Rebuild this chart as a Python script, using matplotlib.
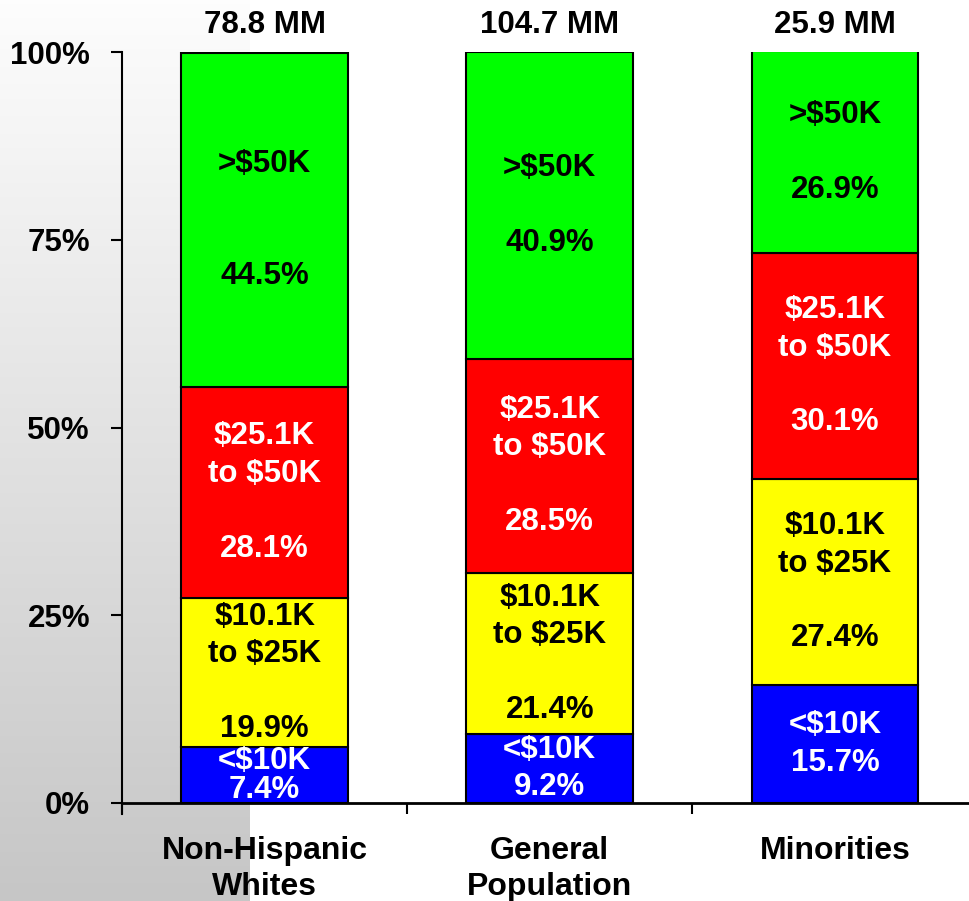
import numpy as np
import matplotlib.pyplot as plt

plt.rcParams['font.family'] = ['Liberation Sans', 'DejaVu Sans']
plt.rcParams['font.weight'] = 'bold'

groups = ['Non-Hispanic\nWhites', 'General\nPopulation', 'Minorities']
totals = ['78.8 MM', '104.7 MM', '25.9 MM']
brackets = ['<$10K', '$10.1K\nto $25K', '$25.1K\nto $50K', '>$50K']
colors = ['#0000ff', '#ffff00', '#ff0000', '#00ff00']
text_colors = ['white', 'black', 'white', 'black']
# share of each income bracket, bottom to top, per group
shares = np.array([
    [7.4, 9.2, 15.7],
    [19.9, 21.4, 27.4],
    [28.1, 28.5, 30.1],
    [44.5, 40.9, 26.9],
])

fig = plt.figure(figsize=(9.69, 9.01), dpi=100)

# grey gradient strip at the left edge
bg = fig.add_axes([0, 0, 249 / 969, 1], zorder=0)
grad = np.linspace(253, 198, 256).reshape(-1, 1) / 255
bg.imshow(np.dstack([grad, grad, grad]), aspect='auto', extent=[0, 1, 0, 1])
bg.axis('off')

ax = fig.add_axes([122 / 969, 1 - 803 / 901, 855.5 / 969, 751 / 901], zorder=1)
ax.patch.set_alpha(0)

x = np.arange(len(groups))
width = 0.585
bottom = np.zeros(len(groups))
for i in range(len(brackets)):
    vals = shares[i]
    ax.bar(x, vals, width, bottom=bottom, color=colors[i], edgecolor='black', linewidth=1.5)
    for j in range(len(groups)):
        if i == 0:
            label = brackets[i] + '\n' + f'{vals[j]:.1f}%'
        elif i == 3 and j == 0:
            label = brackets[i] + '\n\n\n' + f'{vals[j]:.1f}%'
        else:
            label = brackets[i] + '\n\n' + f'{vals[j]:.1f}%'
        ls = 0.95 if (i == 0 and j == 0) else 1.32
        ax.text(x[j], bottom[j] + vals[j] / 2, label, ha='center', va='center',
                color=text_colors[i], fontsize=22.5, fontweight='bold', linespacing=ls)
    bottom = bottom + vals

for j in range(len(groups)):
    ax.annotate(totals[j], (x[j], 100), xytext=(0, 14), textcoords='offset points',
                ha='center', va='baseline', fontsize=22.5, fontweight='bold')

ax.set_xlim(-0.5, 2.5)
ax.set_ylim(0, 100)
ax.set_yticks([0, 25, 50, 75, 100])
ax.set_yticklabels(['0%', '25%', '50%', '75%', '100%'])
ax.set_xticks([-0.5, 0.5, 1.5, 2.5])
ax.set_xticklabels([])
ax.set_xticks(x, minor=True)
ax.set_xticklabels(groups, minor=True)
ax.tick_params(axis='x', which='minor', length=0, pad=24, labelsize=23)
ax.tick_params(axis='x', which='major', length=8, width=1.5, direction='out')
ax.tick_params(axis='y', length=8, width=1.5, pad=15, labelsize=22.5)
for lab in ax.get_xticklabels(minor=True) + ax.get_yticklabels():
    lab.set_fontweight('bold')
for lab in ax.get_xticklabels(minor=True):
    lab.set_linespacing(1.25)
ax.spines['top'].set_visible(False)
ax.spines['right'].set_visible(False)
ax.spines['left'].set_linewidth(1.5)
ax.spines['bottom'].set_linewidth(2)
ax.spines['left'].set_bounds(-1.4, 100)

fig.savefig('out.png', dpi=100)
